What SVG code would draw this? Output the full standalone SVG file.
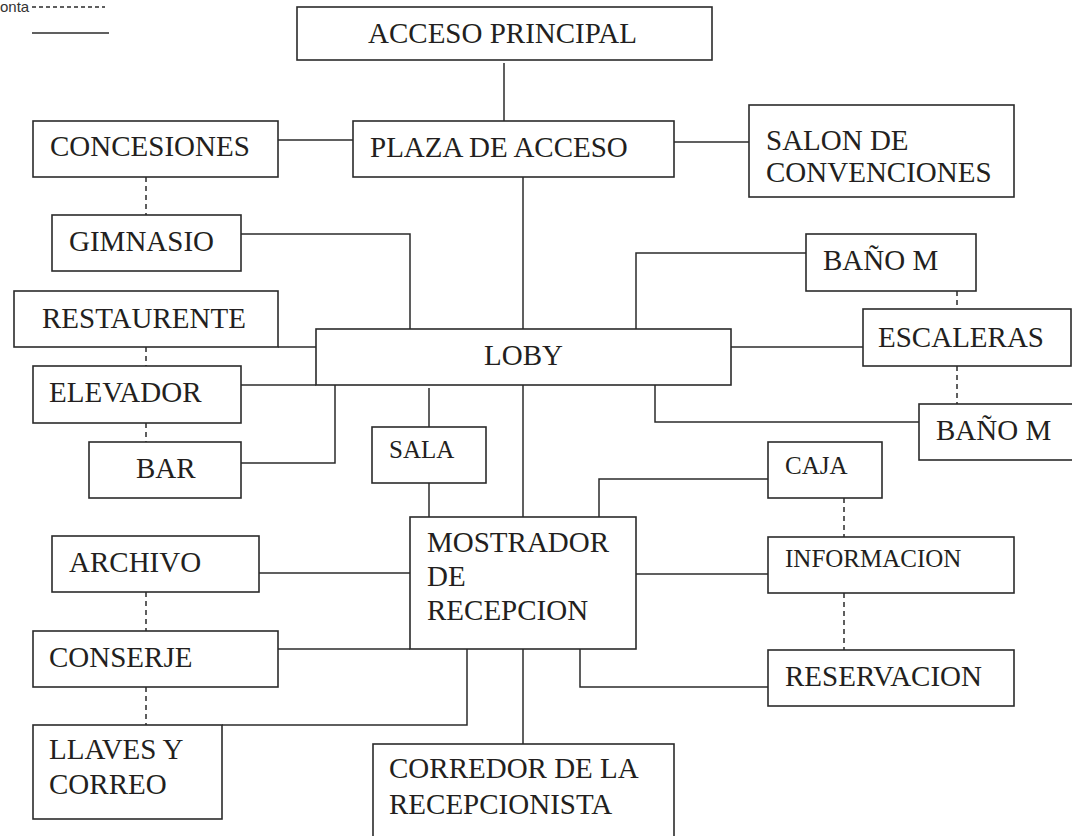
<svg xmlns="http://www.w3.org/2000/svg" width="1072" height="836" viewBox="0 0 1072 836">
<style>
.box{fill:#fff;stroke:#2b2b2b;stroke-width:1.6}
.ln{fill:none;stroke:#2b2b2b;stroke-width:1.5}
.ds{fill:none;stroke:#2b2b2b;stroke-width:1.5;stroke-dasharray:5,4}
.t{font-family:"Liberation Serif","Times New Roman",serif;font-size:29px;fill:#231f20}
.s{font-family:"Liberation Serif","Times New Roman",serif;font-size:25px;fill:#231f20}
.lg{font-family:"Liberation Sans",Arial,sans-serif;font-size:15px;fill:#333}
</style>
<rect width="1072" height="836" fill="#fff"/>
<g id="legend">
<text class="lg" x="0" y="12">onta</text>
<line class="ds" x1="32" y1="7" x2="105" y2="7" style="stroke-dasharray:4,3"/>
<line class="ln" x1="32" y1="33" x2="109" y2="33"/>
</g>
<g id="connectors">
<path class="ln" d="M504 63V121"/>
<path class="ln" d="M278 140H353"/>
<path class="ln" d="M674 142H749"/>
<path class="ln" d="M523 177V329"/>
<path class="ln" d="M241 234H410V329"/>
<path class="ln" d="M278 347H316"/>
<path class="ln" d="M241 385H316"/>
<path class="ln" d="M241 463H335V385"/>
<path class="ln" d="M636 329V253H806"/>
<path class="ln" d="M731 347H863"/>
<path class="ln" d="M655 385V422H919"/>
<path class="ln" d="M429 388V427"/>
<path class="ln" d="M429 483V520"/>
<path class="ln" d="M523 385V517"/>
<path class="ln" d="M599 517V479H768"/>
<path class="ln" d="M259 573H410"/>
<path class="ln" d="M636 574H768"/>
<path class="ln" d="M278 649H410"/>
<path class="ln" d="M467 649V725H222"/>
<path class="ln" d="M523 649V744"/>
<path class="ln" d="M580 649V687H768"/>
<path class="ds" d="M146 177V215M146 347V366M146 423V442M146 592V631M146 687V725"/>
<path class="ds" d="M957 291V309M957 366V404"/>
<path class="ds" d="M844 498V537M844 593V650"/>
</g>
<g id="acceso-principal"><rect class="box" x="297" y="7" width="415" height="53"/><text class="t" x="368" y="43">ACCESO PRINCIPAL</text></g>
<g id="plaza-de-acceso"><rect class="box" x="353" y="121" width="321" height="56"/><text class="t" x="370" y="157">PLAZA DE ACCESO</text></g>
<g id="concesiones"><rect class="box" x="33" y="121" width="245" height="56"/><text class="t" x="50" y="156">CONCESIONES</text></g>
<g id="salon"><rect class="box" x="749" y="105" width="265" height="92"/><text class="t" x="766" y="150">SALON DE</text><text class="t" x="766" y="182">CONVENCIONES</text></g>
<g id="gimnasio"><rect class="box" x="52" y="215" width="189" height="56"/><text class="t" x="69" y="251">GIMNASIO</text></g>
<g id="restaurente"><rect class="box" x="14" y="291" width="264" height="56"/><text class="t" x="42" y="328">RESTAURENTE</text></g>
<g id="loby"><rect class="box" x="316" y="329" width="415" height="56"/><text class="t" x="484" y="365">LOBY</text></g>
<g id="elevador"><rect class="box" x="33" y="366" width="208" height="57"/><text class="t" x="49" y="402">ELEVADOR</text></g>
<g id="bar"><rect class="box" x="89" y="442" width="152" height="56"/><text class="t" x="136" y="478">BAR</text></g>
<g id="bano-m-1"><rect class="box" x="806" y="234" width="170" height="57"/><text class="t" x="823" y="270">BAÑO M</text></g>
<g id="escaleras"><rect class="box" x="863" y="309" width="208" height="57"/><text class="t" x="878" y="347">ESCALERAS</text></g>
<g id="bano-m-2"><rect class="box" x="919" y="404" width="160" height="56"/><text class="t" x="936" y="440">BAÑO M</text></g>
<g id="sala"><rect class="box" x="372" y="427" width="114" height="56"/><text class="s" x="389" y="458">SALA</text></g>
<g id="caja"><rect class="box" x="768" y="442" width="114" height="56"/><text class="s" x="785" y="474">CAJA</text></g>
<g id="mostrador"><rect class="box" x="410" y="517" width="226" height="132"/><text class="t" x="427" y="552">MOSTRADOR</text><text class="t" x="427" y="586">DE</text><text class="t" x="427" y="620">RECEPCION</text></g>
<g id="archivo"><rect class="box" x="52" y="536" width="207" height="56"/><text class="t" x="69" y="572">ARCHIVO</text></g>
<g id="informacion"><rect class="box" x="768" y="537" width="246" height="56"/><text class="s" x="785" y="567">INFORMACION</text></g>
<g id="conserje"><rect class="box" x="33" y="631" width="245" height="56"/><text class="t" x="49" y="667">CONSERJE</text></g>
<g id="reservacion"><rect class="box" x="768" y="650" width="246" height="56"/><text class="t" x="785" y="686">RESERVACION</text></g>
<g id="llaves"><rect class="box" x="33" y="725" width="189" height="94"/><text class="t" x="49" y="759">LLAVES Y</text><text class="t" x="49" y="794">CORREO</text></g>
<g id="corredor"><rect class="box" x="373" y="744" width="301" height="110"/><text class="t" x="389" y="778">CORREDOR DE LA</text><text class="t" x="389" y="814">RECEPCIONISTA</text></g>
</svg>
